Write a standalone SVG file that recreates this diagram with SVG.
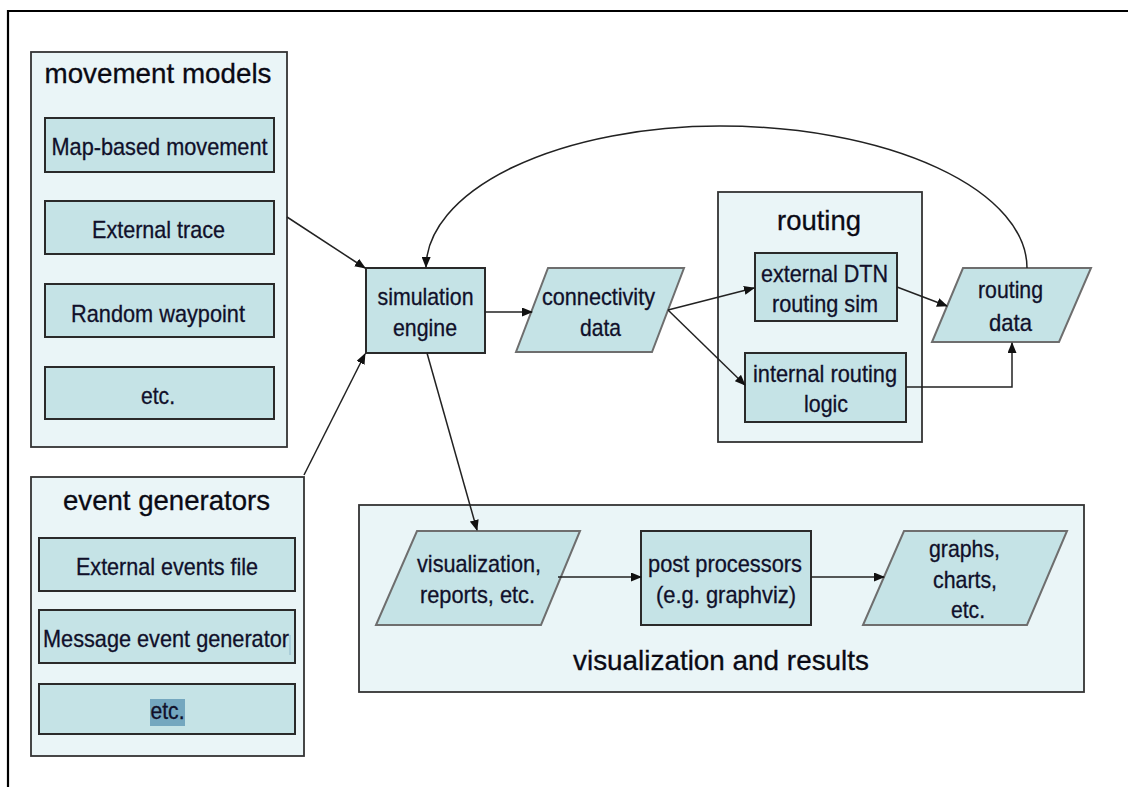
<svg xmlns="http://www.w3.org/2000/svg" width="1128" height="787" viewBox="0 0 1128 787">
  <style>
    .frame { fill: none; stroke: #000; stroke-width: 2.2; }
    .group { fill: #eaf5f7; stroke: #333; stroke-width: 1.8; }
    .box { fill: #c5e3e6; stroke: #2a2a2a; stroke-width: 2; }
    .data { fill: #c5e3e6; stroke: #6e6e6e; stroke-width: 2; }
    .title { font-family: "Liberation Sans", Arial, sans-serif; font-size: 28px; fill: #0a0a14; stroke: #0a0a14; stroke-width: 0.3; text-anchor: middle; }
    .label { font-family: "Liberation Sans", Arial, sans-serif; font-size: 24px; fill: #10102a; stroke: #10102a; stroke-width: 0.3; text-anchor: middle; }
    .wire { fill: none; stroke: #222; stroke-width: 1.5; }
  </style>
  <defs>
    <marker id="arrow" markerWidth="11" markerHeight="9" refX="10" refY="4.5" orient="auto" markerUnits="userSpaceOnUse">
      <path d="M0,0 L11,4.5 L0,9 Z" fill="#111"/>
    </marker>
  </defs>

  <rect width="1128" height="787" fill="#fff"/>

  <!-- page frame: top and left rules -->
  <path class="frame" d="M8,787 V11 H1128"/>

  <g id="movement-models">
    <rect class="group" x="31" y="52" width="256" height="395"/>
    <text class="title" x="158" y="83" textLength="227" lengthAdjust="spacingAndGlyphs">movement models</text>
    <g id="map-based-movement">
      <rect class="box" x="45" y="118" width="229" height="54"/>
      <text class="label" x="159.5" y="155" textLength="216" lengthAdjust="spacingAndGlyphs">Map-based movement</text>
    </g>
    <g id="external-trace">
      <rect class="box" x="45" y="201" width="229" height="53"/>
      <text class="label" x="158.5" y="238" textLength="133" lengthAdjust="spacingAndGlyphs">External trace</text>
    </g>
    <g id="random-waypoint">
      <rect class="box" x="45" y="284" width="229" height="53"/>
      <text class="label" x="158" y="322" textLength="174" lengthAdjust="spacingAndGlyphs">Random waypoint</text>
    </g>
    <g id="movement-etc">
      <rect class="box" x="45" y="367" width="229" height="52"/>
      <text class="label" x="158" y="404" textLength="34" lengthAdjust="spacingAndGlyphs">etc.</text>
    </g>
  </g>

  <g id="event-generators">
    <rect class="group" x="31" y="477" width="273" height="279"/>
    <text class="title" x="166.5" y="510" textLength="207" lengthAdjust="spacingAndGlyphs">event generators</text>
    <g id="external-events-file">
      <rect class="box" x="39" y="538" width="256" height="53"/>
      <text class="label" x="167" y="575" textLength="182" lengthAdjust="spacingAndGlyphs">External events file</text>
    </g>
    <g id="message-event-generator">
      <rect class="box" x="39" y="610" width="256" height="53"/>
      <text class="label" x="166" y="647" textLength="246" lengthAdjust="spacingAndGlyphs">Message event generator</text>
      <line x1="290" y1="635" x2="290" y2="655" stroke="#8fb8cc" stroke-width="1"/>
    </g>
    <g id="events-etc">
      <rect class="box" x="39" y="684" width="256" height="50"/>
      <rect x="150" y="699" width="35" height="27" fill="#74a7bf"/>
      <text class="label" x="167.5" y="719" textLength="34" lengthAdjust="spacingAndGlyphs">etc.</text>
    </g>
  </g>

  <g id="simulation-engine">
    <rect class="box" x="366" y="268" width="119" height="85"/>
    <text class="label" x="425.5" y="305" textLength="96" lengthAdjust="spacingAndGlyphs">simulation</text>
    <text class="label" x="425" y="336" textLength="64" lengthAdjust="spacingAndGlyphs">engine</text>
  </g>

  <g id="connectivity-data">
    <polygon class="data" points="548,268 684,268 652,352 516,352"/>
    <text class="label" x="598.5" y="305" textLength="113" lengthAdjust="spacingAndGlyphs">connectivity</text>
    <text class="label" x="600.5" y="336" textLength="41" lengthAdjust="spacingAndGlyphs">data</text>
  </g>

  <g id="routing">
    <rect class="group" x="718" y="192" width="204" height="250"/>
    <text class="title" x="819" y="230" textLength="84" lengthAdjust="spacingAndGlyphs">routing</text>
    <g id="external-dtn-routing-sim">
      <rect class="box" x="755" y="253" width="142" height="68"/>
      <text class="label" x="824.5" y="282" textLength="127" lengthAdjust="spacingAndGlyphs">external DTN</text>
      <text class="label" x="825" y="312" textLength="106" lengthAdjust="spacingAndGlyphs">routing sim</text>
    </g>
    <g id="internal-routing-logic">
      <rect class="box" x="745" y="353" width="161" height="69"/>
      <text class="label" x="825" y="382" textLength="144" lengthAdjust="spacingAndGlyphs">internal routing</text>
      <text class="label" x="826" y="412" textLength="44" lengthAdjust="spacingAndGlyphs">logic</text>
    </g>
  </g>

  <g id="routing-data">
    <polygon class="data" points="963,268 1091,268 1059,342 932,342"/>
    <text class="label" x="1010.5" y="298" textLength="65" lengthAdjust="spacingAndGlyphs">routing</text>
    <text class="label" x="1010.5" y="331" textLength="43" lengthAdjust="spacingAndGlyphs">data</text>
  </g>

  <g id="visualization-and-results">
    <rect class="group" x="359" y="505" width="725" height="187"/>
    <text class="title" x="721" y="670" textLength="296" lengthAdjust="spacingAndGlyphs">visualization and results</text>
    <g id="visualization-reports">
      <polygon class="data" points="417,531 580,531 541,625 376,625"/>
      <text class="label" x="479" y="572" textLength="124" lengthAdjust="spacingAndGlyphs">visualization,</text>
      <text class="label" x="477.5" y="603" textLength="115" lengthAdjust="spacingAndGlyphs">reports, etc.</text>
    </g>
    <g id="post-processors">
      <rect class="box" x="641" y="531" width="170" height="94"/>
      <text class="label" x="725" y="572" textLength="154" lengthAdjust="spacingAndGlyphs">post processors</text>
      <text class="label" x="726" y="603" textLength="140" lengthAdjust="spacingAndGlyphs">(e.g. graphviz)</text>
    </g>
    <g id="graphs-charts">
      <polygon class="data" points="904,531 1067,531 1027,625 863,625"/>
      <text class="label" x="964.5" y="557" textLength="71" lengthAdjust="spacingAndGlyphs">graphs,</text>
      <text class="label" x="965" y="588" textLength="64" lengthAdjust="spacingAndGlyphs">charts,</text>
      <text class="label" x="968" y="618" textLength="34" lengthAdjust="spacingAndGlyphs">etc.</text>
    </g>
  </g>

  <g id="connectors">
    <line class="wire" x1="287" y1="217" x2="365" y2="268" marker-end="url(#arrow)"/>
    <line class="wire" x1="304" y1="475" x2="365" y2="354" marker-end="url(#arrow)"/>
    <path class="wire" d="M1027,268 A307,142 0 0 0 720,126 A294,142 0 0 0 426,267" marker-end="url(#arrow)"/>
    <line class="wire" x1="485" y1="312" x2="532" y2="312" marker-end="url(#arrow)"/>
    <line class="wire" x1="668" y1="310" x2="754" y2="288" marker-end="url(#arrow)"/>
    <line class="wire" x1="668" y1="310" x2="745" y2="385" marker-end="url(#arrow)"/>
    <line class="wire" x1="897" y1="287" x2="947" y2="306" marker-end="url(#arrow)"/>
    <path class="wire" d="M906,387 H1012 V343" marker-end="url(#arrow)"/>
    <line class="wire" x1="427" y1="353" x2="477" y2="530" marker-end="url(#arrow)"/>
    <line class="wire" x1="558" y1="577" x2="641" y2="577" marker-end="url(#arrow)"/>
    <line class="wire" x1="811" y1="577" x2="884" y2="577" marker-end="url(#arrow)"/>
  </g>
</svg>
